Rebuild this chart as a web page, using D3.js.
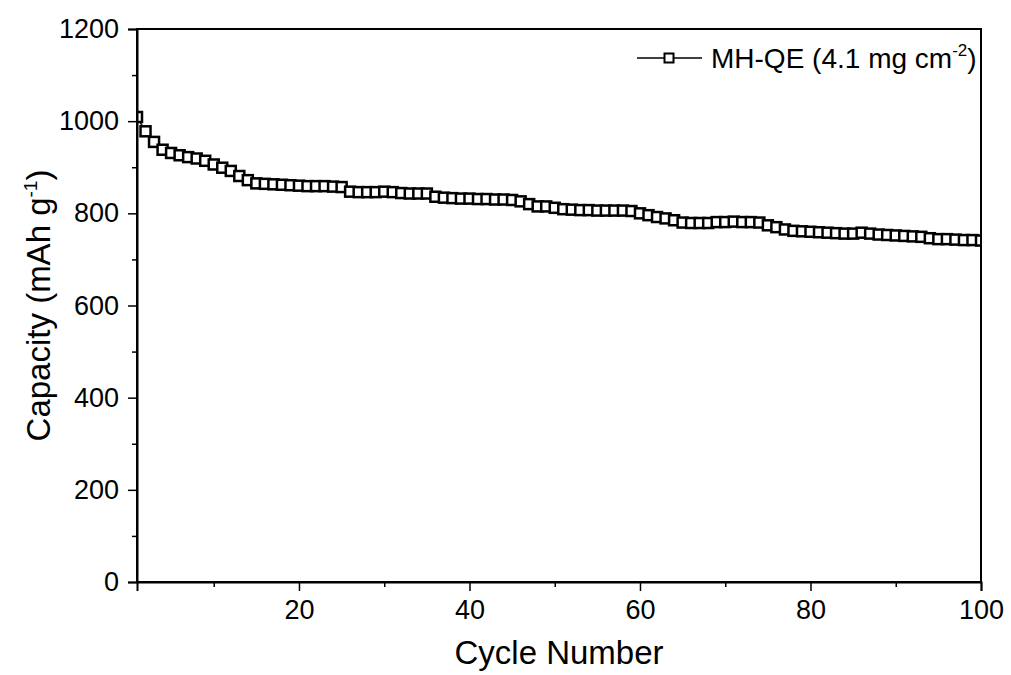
<!DOCTYPE html>
<html>
<head>
<meta charset="utf-8">
<script src="https://cdn.jsdelivr.net/npm/d3@7"></script>
<style>
  body { margin: 0; background: #fff; }
  svg text { font-family: "Liberation Sans", Arial, sans-serif; fill: #000; }
</style>
</head>
<body>
<svg id="chart" width="1011" height="675"></svg>
<script>
// capacity per cycle
const cycles = d3.range(1, 101);
const capacity = [
  1009, 978, 955, 938, 931, 926, 922, 919, 914, 906,
  899, 892, 881, 872, 865, 864, 863, 862, 861, 860,
  859, 859, 859, 858, 857, 847, 846, 846, 846, 847,
  846, 844, 843, 843, 843, 836, 834, 833, 832, 832,
  831, 831, 830, 830, 829, 826, 820, 815, 815, 812,
  809, 808, 807, 807, 806, 806, 806, 806, 805, 800,
  796, 792, 789, 785, 780, 779, 779, 779, 781, 781,
  782, 781, 781, 780, 774, 770, 765, 762, 761, 760,
  759, 758, 757, 756, 756, 758, 756, 754, 753, 752,
  751, 750, 749, 746, 744, 744, 743, 742, 742, 741
];
const xTicks = [20, 40, 60, 80, 100];
const xMinor = [10, 30, 50, 70, 90];
const yTicks = [0, 200, 400, 600, 800, 1000, 1200];
const yMinor = [100, 300, 500, 700, 900, 1100];
const seriesName = 'MH-QE';

const plotL = 137, plotR = 981, plotT = 29, plotB = 582;

const svg = d3.select('#chart');

const x = d3.scaleLinear().domain([1, 100]).range([plotL, plotR]);
const y = d3.scaleLinear().domain([0, 1200]).range([plotB, plotT]);

const data = cycles.map((c, i) => ({ c: c, v: capacity[i] }));

svg.append('clipPath').attr('id', 'plotClip')
  .append('rect')
  .attr('x', plotL).attr('y', plotT)
  .attr('width', plotR - plotL).attr('height', plotB - plotT);

// series line + square markers
const series = svg.append('g').attr('clip-path', 'url(#plotClip)');
series.append('path')
  .datum(data)
  .attr('fill', 'none')
  .attr('stroke', '#000')
  .attr('stroke-width', 1.5)
  .attr('d', d3.line().x(d => x(d.c)).y(d => y(d.v)));

const sq = 10;
series.selectAll('rect')
  .data(data)
  .enter()
  .append('rect')
  .attr('x', d => x(d.c) - sq / 2)
  .attr('y', d => y(d.v) - sq / 2)
  .attr('width', sq)
  .attr('height', sq)
  .attr('fill', '#fff')
  .attr('stroke', '#000')
  .attr('stroke-width', 2.5);

// frame
svg.append('rect')
  .attr('x', plotL).attr('y', plotT)
  .attr('width', plotR - plotL).attr('height', plotB - plotT)
  .attr('fill', 'none').attr('stroke', '#000').attr('stroke-width', 2);

// x axis
svg.append('g')
  .attr('transform', `translate(0, ${plotB})`)
  .call(d3.axisBottom(x).tickValues(xTicks).tickSize(9).tickPadding(9).tickFormat(d3.format('d')));
svg.append('g')
  .attr('transform', `translate(0, ${plotB})`)
  .call(d3.axisBottom(x).tickValues(xMinor).tickSize(5).tickFormat(''))
  .call(g => g.select('.domain').remove());

// y axis
svg.append('g')
  .attr('transform', `translate(${plotL}, 0)`)
  .call(d3.axisLeft(y).tickValues(yTicks).tickSize(9).tickPadding(9).tickFormat(d3.format('d')));
svg.append('g')
  .attr('transform', `translate(${plotL}, 0)`)
  .call(d3.axisLeft(y).tickValues(yMinor).tickSize(5).tickFormat(''))
  .call(g => g.select('.domain').remove());

svg.selectAll('.domain').attr('stroke-width', 2);
svg.selectAll('.tick line').attr('stroke-width', 1.5);
svg.selectAll('.tick text').attr('font-size', 27);

// axis titles
svg.append('text')
  .attr('x', 559)
  .attr('y', 664)
  .attr('text-anchor', 'middle')
  .attr('font-size', 33)
  .text('Cycle Number');

const yt = svg.append('text')
  .attr('transform', `translate(50, ${(plotT + plotB) / 2}) rotate(-90)`)
  .attr('text-anchor', 'middle')
  .attr('font-size', 33);
yt.append('tspan').text('Capacity (mAh g');
yt.append('tspan').attr('dy', -13).attr('font-size', 19).text('-1');
yt.append('tspan').attr('dy', 13).text(')');

// legend
const lg = svg.append('g').attr('transform', 'translate(637, 58)');
lg.append('line').attr('x1', 0).attr('x2', 65).attr('y1', 0).attr('y2', 0)
  .attr('stroke', '#000').attr('stroke-width', 1.5);
lg.append('rect').attr('x', 27.5).attr('y', -4.5).attr('width', 9).attr('height', 9)
  .attr('fill', '#fff').attr('stroke', '#000').attr('stroke-width', 2);
const lt = lg.append('text').attr('x', 74).attr('y', 10).attr('font-size', 28);
lt.append('tspan').text(seriesName + ' (4.1 mg cm');
lt.append('tspan').attr('dy', -12).attr('font-size', 17).text('-2');
lt.append('tspan').attr('dy', 12).text(')');
</script>
</body>
</html>
